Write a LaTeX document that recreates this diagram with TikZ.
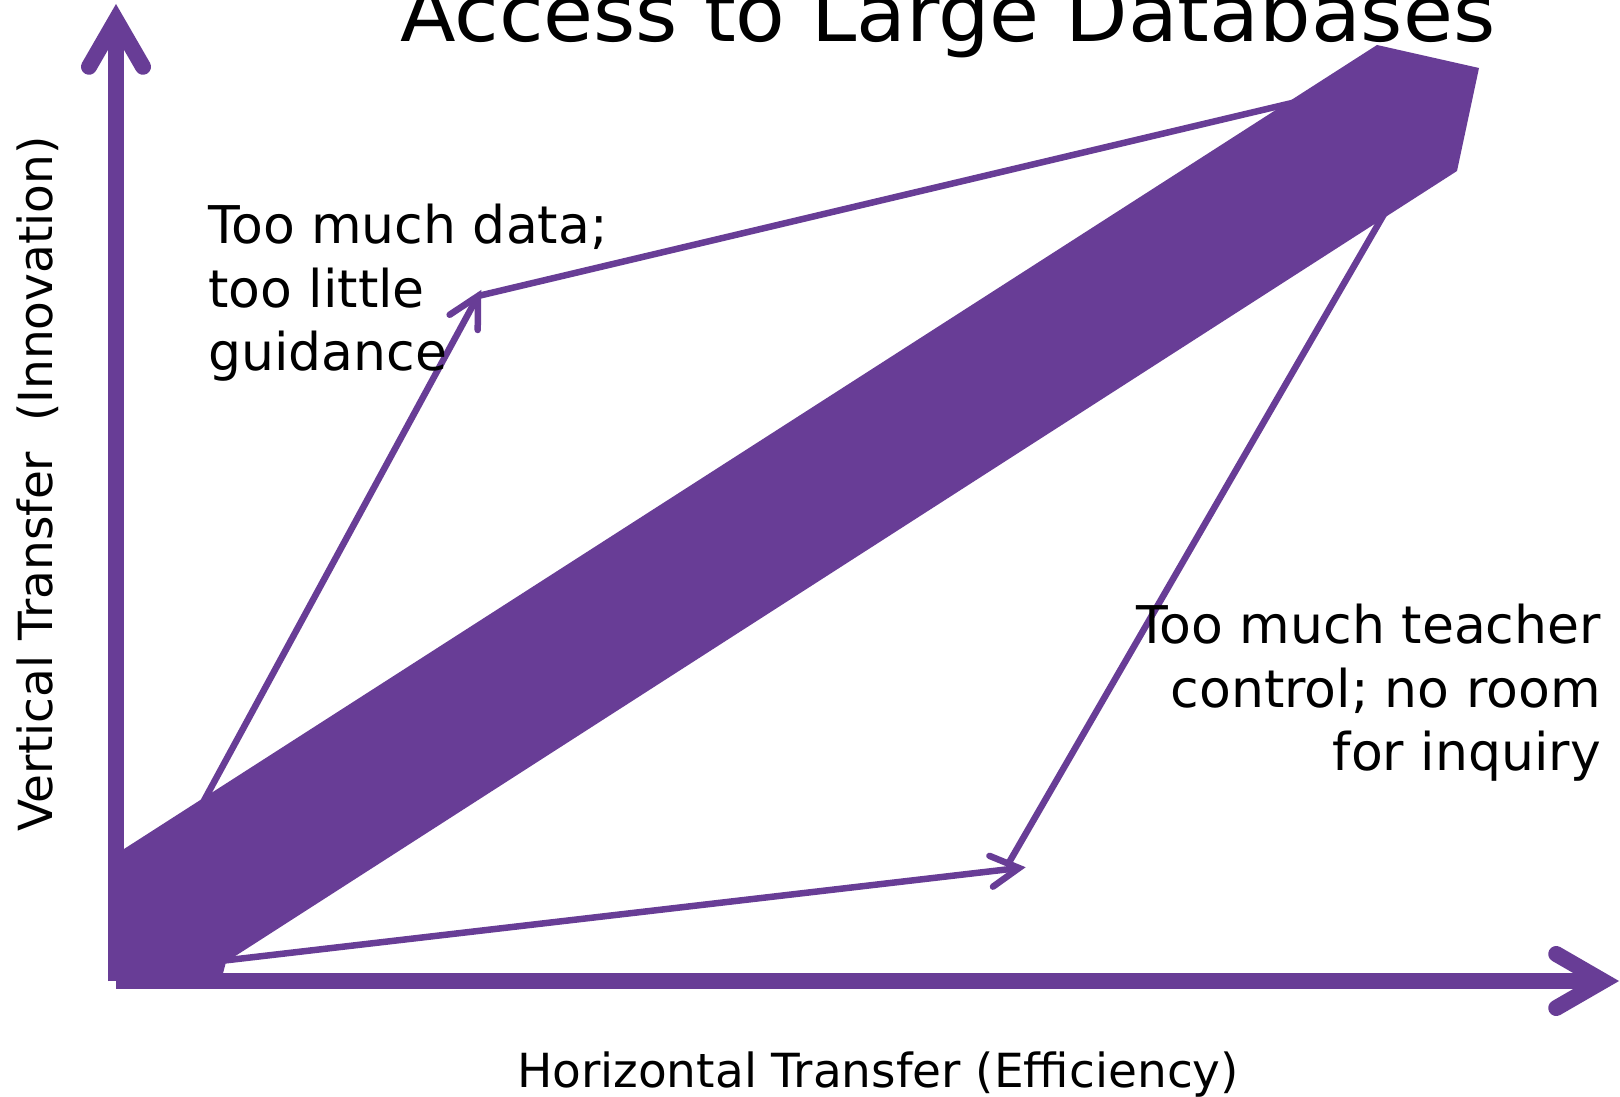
\documentclass[tikz,border=0pt]{standalone}
\usepackage{fontspec}
\setmainfont{DejaVu Sans}
\usetikzlibrary{calc}
\definecolor{grape}{RGB}{104,61,150}
\begin{document}
\begin{tikzpicture}[x=1pt,y=-1pt,
  axisline/.style={draw=grape,line width=16pt},
  axishead/.style={draw=grape,line width=16pt,line cap=round,line join=miter},
  thinline/.style={draw=grape,line width=6.5pt},
  thinhead/.style={draw=grape,line width=6.5pt,line cap=round,line join=miter},
  lbl/.style={inner sep=0pt,text=black},
  bodytext/.style={lbl,font=\fontsize{52}{62}\selectfont},
  axistext/.style={lbl,font=\fontsize{47}{56}\selectfont},
]
\useasboundingbox (0,0) rectangle (1620,1097);
\fill[white] (0,0) rectangle (1620,1097);

% axes
\coordinate (O) at (116,981);
\coordinate (ytip) at (116,20);
\coordinate (xtip) at (1603,981);
\draw[axisline] (O) -- (ytip);
\draw[axisline] (O) -- (xtip);
\draw[axishead] ($(ytip)!54pt!30:(O)$) -- (ytip) -- ($(ytip)!54pt!-30:(O)$);
\draw[axishead] ($(xtip)!54pt!30:(O)$) -- (xtip) -- ($(xtip)!54pt!-30:(O)$);

% upper path: steep rise, then along to the top
\coordinate (s1) at (150,900);
\coordinate (t1) at (478,296);
\coordinate (e1) at (1330,94);
\draw[thinline] (s1) -- (t1);
\draw[thinhead] ($(t1)!34pt!28:(s1)$) -- (t1) -- ($(t1)!34pt!-28:(s1)$);
\draw[thinline] (t1) -- (e1);

% lower path: flat run, then steep rise
\coordinate (s2) at (160,968);
\coordinate (t2) at (1019,868);
\coordinate (d2) at (1007,866);
\coordinate (e2) at (1398,190);
\draw[thinline] (s2) -- (t2);
\draw[thinhead] ($(t2)!32pt!29:(s2)$) -- (t2) -- ($(t2)!32pt!-29:(s2)$);
\draw[thinline] (e2) -- (d2);

% broad diagonal band
\fill[grape] (124,849) -- (1377,45) -- (1479,68) -- (1457,171) -- (226,962)
  -- (221,981) -- (116,981) -- (116,854) -- cycle;

% labels
\node[lbl,font=\fontsize{79}{95}\selectfont,anchor=base west,xscale=1.028] (title) at (400,42) {Access to Large Databases};
\node[bodytext,anchor=base west] (l1) at (208,243) {Too much data;};
\node[bodytext,anchor=base west] (l2) at (208,307) {too little};
\node[bodytext,anchor=base west] (l3) at (208,370) {guidance};
\node[bodytext,anchor=base east] (r1) at (1601,643) {Too much teacher};
\node[bodytext,anchor=base east] (r2) at (1601,707) {control; no room};
\node[bodytext,anchor=base east] (r3) at (1601,770) {for inquiry};
\node[axistext,rotate=90,anchor=base] (ylab) at (52,484) {Vertical Transfer\ \ (Innovation)};
\node[axistext,anchor=base] (xlab) at (878,1087) {Horizontal Transfer (Efficiency)};
\end{tikzpicture}
\end{document}
